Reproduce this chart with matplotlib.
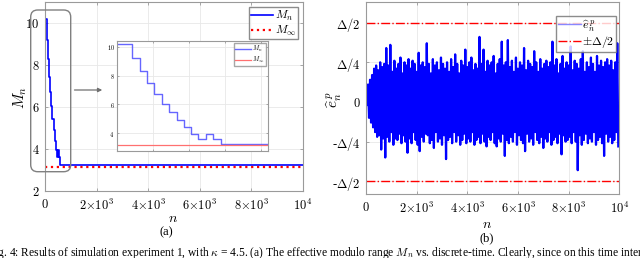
import numpy as np
import matplotlib
matplotlib.use("Agg")
import matplotlib.pyplot as plt
from matplotlib.patches import FancyBboxPatch, FancyArrowPatch

plt.rcParams["mathtext.fontset"] = "cm"
plt.rcParams["font.family"] = ["Liberation Serif", "DejaVu Serif"]

# (a) effective modulo range, staircase change points
step_n = [0, 84, 124, 163, 206, 246, 289, 330, 370, 409, 450, 492, 533, 574, 10000]
step_M = [10.2, 9.2, 8.3, 7.45, 6.7, 6.05, 5.45, 4.9, 4.4, 3.95, 3.6, 3.95, 3.6, 3.25, 3.25]
M_inf = 3.15

# (b) error envelope (units of Delta), peaks every 80 samples
upper = [0.03, 0.11, 0.14, 0.17, 0.21, 0.23, 0.20, 0.25, 0.22, 0.24,
         0.34, 0.23, 0.36, 0.19, 0.26, 0.21, 0.24, 0.28, 0.18, 0.25,
         0.23, 0.27, 0.21, 0.26, 0.24, 0.19, 0.31, 0.23, 0.25, 0.22,
         0.37, 0.24, 0.18, 0.27, 0.23, 0.25, 0.20, 0.28, 0.24, 0.21,
         0.25, 0.19, 0.27, 0.22, 0.30, 0.24, 0.18, 0.26, 0.23, 0.33,
         0.22, 0.25, 0.28, 0.20, 0.24, 0.21, 0.41, 0.24, 0.33, 0.19,
         0.26, 0.23, 0.25, 0.29, 0.18, 0.24, 0.27, 0.38, 0.23, 0.25,
         0.39, 0.22, 0.26, 0.19, 0.28, 0.21, 0.25, 0.23, 0.34, 0.20,
         0.26, 0.24, 0.22, 0.32, 0.25, 0.19, 0.27, 0.21, 0.24, 0.26,
         0.22, 0.25, 0.38, 0.23, 0.27, 0.18, 0.24, 0.29, 0.21, 0.25,
         0.23, 0.35, 0.20, 0.26, 0.24, 0.21, 0.27, 0.32, 0.19, 0.25,
         0.22, 0.28, 0.24, 0.19, 0.29, 0.23, 0.26, 0.22, 0.25, 0.27,
         0.23, 0.26, 0.20, 0.25, 0.37]
lower = [-0.02, -0.10, -0.13, -0.16, -0.19, -0.22, -0.21, -0.30, -0.23, -0.35,
         -0.22, -0.25, -0.19, -0.27, -0.23, -0.24, -0.20, -0.26, -0.21, -0.25,
         -0.32, -0.23, -0.26, -0.19, -0.24, -0.27, -0.31, -0.22, -0.25, -0.20,
         -0.21, -0.26, -0.24, -0.29, -0.19, -0.25, -0.23, -0.27, -0.21, -0.36,
         -0.24, -0.22, -0.26, -0.19, -0.25, -0.21, -0.27, -0.24, -0.20, -0.26,
         -0.23, -0.25, -0.19, -0.27, -0.24, -0.22, -0.26, -0.20, -0.25, -0.28,
         -0.22, -0.24, -0.19, -0.26, -0.28, -0.23, -0.25, -0.20, -0.34, -0.24,
         -0.26, -0.22, -0.25, -0.19, -0.27, -0.21, -0.24, -0.26, -0.31, -0.20,
         -0.25, -0.23, -0.27, -0.19, -0.24, -0.26, -0.22, -0.29, -0.23, -0.25,
         -0.19, -0.27, -0.24, -0.22, -0.26, -0.20, -0.33, -0.21, -0.25, -0.24,
         -0.22, -0.26, -0.19, -0.25, -0.43, -0.21, -0.27, -0.24, -0.20, -0.26,
         -0.23, -0.25, -0.19, -0.27, -0.24, -0.22, -0.26, -0.34, -0.20, -0.25,
         -0.22, -0.26, -0.24, -0.19, -0.28]
peak_step = 80

x_ticks = [0, 2000, 4000, 6000, 8000, 10000]
x_labels = ["$0$", r"$2{\times}10^3$", r"$4{\times}10^3$", r"$6{\times}10^3$",
            r"$8{\times}10^3$", "$10^4$"]
e_ticks = [-0.5, -0.25, 0, 0.25, 0.5]
e_labels = [r"-$\Delta/2$", r"-$\Delta/4$", "$0$", r"$\Delta/4$", r"$\Delta/2$"]

W, H = 640, 258
fig = plt.figure(figsize=(6.4, 2.58), dpi=100)

spine_col = "#9a9a9a"
grid_col = "#e8e8e8"


def style(ax, fs=9, pad=5):
    for s in ax.spines.values():
        s.set_color(spine_col)
        s.set_linewidth(0.8)
    ax.tick_params(direction="in", length=2, width=0.6, color=spine_col,
                   labelsize=fs, top=True, right=True, pad=pad)
    ax.grid(True, color=grid_col, lw=0.6)
    ax.set_axisbelow(True)


# ---- panel (a)
axa = fig.add_axes([45 / W, 1 - 191 / H, 258 / W, 189 / H])
style(axa)
axa.tick_params(axis="y", pad=4)
axa.plot(step_n, step_M, drawstyle="steps-post", color="#0000ff", lw=1.2,
         label="$M_n$")
axa.axhline(M_inf, color="red", ls=":", lw=1.6, label=r"$M_\infty$")
axa.set_xlim(0, 10000)
axa.set_ylim(2, 11)
axa.set_yticks([2, 4, 6, 8, 10])
axa.set_yticklabels(["$2$", "$4$", "$6$", "$8$", "$10$"])
axa.set_xticks(x_ticks)
axa.set_xticklabels(x_labels)
axa.legend(loc="upper right", fontsize=8.5, frameon=True, fancybox=False,
           edgecolor="#707070", handlelength=1.9, borderpad=0.15,
           labelspacing=0.05, borderaxespad=0.45, handletextpad=0.1)
fig.text(20 / W, 1 - 97 / H, "$M_n$", rotation=90, ha="center", va="center",
         fontsize=11)
fig.text(173 / W, 1 - 218 / H, "$n$", ha="center", va="center", fontsize=10)
fig.text(166 / W, 1 - 232 / H, "(a)", ha="center", va="center", fontsize=9)

# inset zoom
axi = fig.add_axes([117.3 / W, 1 - 150.7 / H, 150.4 / W, 109.7 / H])
style(axi, fs=4.5, pad=2)
axi.tick_params(length=1.5)
axi.plot(step_n, step_M, drawstyle="steps-post", color="#5555ff", lw=1.0,
         alpha=0.9, label="$M_n$")
axi.axhline(M_inf, color="#ff7070", lw=0.9, label=r"$M_\infty$")
axi.set_xlim(0, 835)
axi.set_ylim(2.77, 10.4)
axi.set_yticks([4, 6, 8, 10])
axi.set_yticklabels(["$4$", "$6$", "$8$", "$10$"])
axi.set_xticks([200, 400, 600, 800])
axi.set_xticklabels([])
axi.legend(loc="upper right", fontsize=4.5, frameon=True, fancybox=False,
           edgecolor="#909090", handlelength=2.5, borderpad=0.2,
           labelspacing=0.1, borderaxespad=0.3, handletextpad=0.3)

# rounded box and arrow
fig.add_artist(FancyBboxPatch((30.7, H - 171.7), 40, 161.7,
                              boxstyle="round,pad=0,rounding_size=7",
                              fc="none", ec="#808080", lw=1.0, transform=None))
fig.add_artist(FancyArrowPatch((71.7, H - 90), (105, H - 90), arrowstyle="-|>",
                               mutation_scale=6, color="#707070", lw=0.9,
                               transform=None))

# ---- panel (b)
axb = fig.add_axes([366 / W, 1 - 194 / H, 253.3 / W, 192 / H])
style(axb)
axb.tick_params(axis="y", pad=4)
n_pk = []
e_pk = []
for k in range(len(upper)):
    n_pk += [k * peak_step, k * peak_step + peak_step / 2]
    e_pk += [upper[k], lower[k]]
axb.plot(n_pk, e_pk, color="#0000ff", lw=1.6, alpha=1.0,
         label=r"$\widehat{e}_n^{\,p}$")
axb.axhline(0.5, color="red", ls="-.", lw=1.0, label=r"$\pm\Delta/2$")
axb.axhline(-0.5, color="red", ls="-.", lw=1.0)
axb.set_xlim(0, 10000)
axb.set_ylim(-0.58, 0.63)
axb.set_yticks(e_ticks)
axb.set_yticklabels(e_labels)
axb.set_xticks(x_ticks)
axb.set_xticklabels(x_labels)
leg = axb.legend(loc="upper right", bbox_to_anchor=(1.0, 0.945), fontsize=8.5,
                 frameon=True, fancybox=False, edgecolor="#707070",
                 handlelength=1.9, borderpad=0.15, labelspacing=0.05,
                 borderaxespad=0.3, handletextpad=0.1)
leg.get_lines()[0].set_color("#8888ff")
leg.get_lines()[0].set_linewidth(1.0)
fig.text(334 / W, 1 - 100 / H, r"$\widehat{e}_n^{\,p}$", rotation=90,
         ha="center", va="center", fontsize=11)
fig.text(487 / W, 1 - 224 / H, "$n$", ha="center", va="center", fontsize=10)
fig.text(487 / W, 1 - 238 / H, "(b)", ha="center", va="center", fontsize=9)

# caption (cut by the bottom edge)
fig.text(-12 / W, 1 - 253 / H,
         r"Fig. 4: Results of simulation experiment 1, with $\kappa$ = 4.5. (a) The effective "
         r"modulo range $M_n$ vs. discrete-time. Clearly, since on this time interval",
         ha="left", va="center", fontsize=8.3)

fig.savefig("out.png", dpi=100)
